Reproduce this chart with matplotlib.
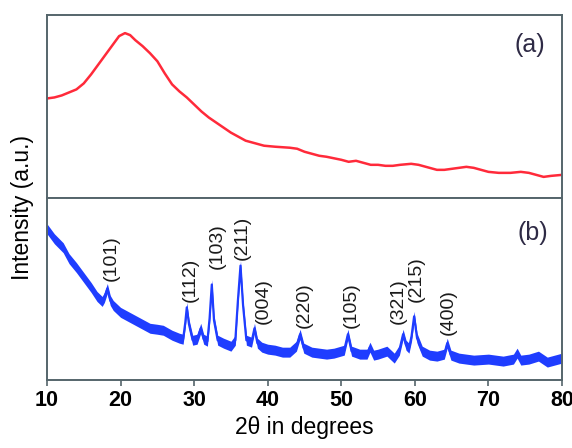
import numpy as np
import matplotlib
matplotlib.use("Agg")
import matplotlib.pyplot as plt

plt.rcParams['font.family'] = ['Liberation Sans', 'DejaVu Sans']

# panel (a): amorphous hump, intensity in arbitrary units
two_theta_a = [10, 11, 12, 13, 14, 15, 16, 17, 18, 19, 19.8, 20.6, 21.3, 22, 23, 24,
               25, 26, 27, 28, 29, 30, 31, 32, 33, 34, 35, 36, 37, 38, 39.5, 41,
               43, 44, 45, 46, 47, 48, 50, 51, 52, 53, 54, 55, 56, 57, 58, 59.5,
               60.5, 62, 63, 64, 65, 66, 67, 68, 69, 70, 71.4, 73, 74.4, 75.5,
               76.5, 77.5, 78.5, 80]
intensity_a = [99, 100, 102, 105, 108, 114, 123, 133, 143, 153, 161, 164, 162, 157,
               151, 144, 136, 124, 113, 106, 100, 93, 86, 80, 75, 70, 65, 61, 57,
               55, 52, 51, 50, 49, 46, 44, 42, 41, 38, 36, 37, 35, 33, 33, 32, 32,
               33, 34, 33, 30, 28, 28, 29, 30, 31, 30, 28, 26, 25, 25, 26, 25, 23,
               21, 22, 23]

# panel (b): crystalline pattern
two_theta_b = [10, 11, 12.2, 13, 14, 15, 16, 16.8, 17.5, 17.8, 18.2, 18.6, 19, 20,
               21, 22, 23, 24, 25, 25.8, 27, 28, 28.5, 28.8, 29.0, 29.3, 29.8, 30.4,
               30.9, 31.3, 31.8, 32.1, 32.4, 32.7, 33.2, 34, 35, 35.6, 35.95, 36.3,
               36.65, 37.1, 37.8, 38.2, 38.6, 39.2, 40, 41, 42, 43, 43.9, 44.4,
               44.9, 46, 47, 48, 49, 50.4, 50.9, 51.4, 52.5, 53.5, 53.9, 54.4, 55,
               56.2, 57.2, 57.9, 58.4, 58.8, 59.2, 59.55, 59.9, 60.3, 61, 62, 63,
               64, 64.4, 64.9, 66, 68, 70, 72, 73.4, 73.9, 74.4, 75.5, 76.8, 78,
               79, 80]
intensity_b = [152, 142, 133, 122, 113, 103, 93, 84, 79, 83, 92, 80, 75, 68,
               64, 60, 56, 52, 51, 50, 45, 42, 41, 58, 73, 56, 40, 41,
               52, 41, 39, 62, 96, 60, 40, 37, 34, 40, 80, 115,
               75, 40, 38, 52, 37, 33, 31, 30, 28, 28, 34, 46,
               32, 28, 27, 26, 27, 30, 46, 29, 26, 26, 33, 25, 26,
               29, 22, 30, 46, 35, 32, 44, 64, 42, 29, 25, 24,
               26, 37, 25, 22, 20, 21, 19, 21, 27, 20, 21, 24, 18,
               20, 22]

peak_labels = ['(101)', '(112)', '(103)', '(211)', '(004)', '(220)', '(105)',
               '(321)', '(215)', '(400)']
label_x = [18.7, 29.5, 33.1, 36.5, 39.4, 44.9, 51.3, 57.7, 60.2, 64.6]
label_y = [100, 78, 112, 121, 56, 52, 52, 56, 78, 45]

fig = plt.figure(figsize=(5.72, 4.48), dpi=100)
left, right = 47 / 572, 562 / 572
ax_a = fig.add_axes([left, 1 - 198 / 448, right - left, 183 / 448])
ax_b = fig.add_axes([left, 1 - 380 / 448, right - left, 182 / 448], sharex=ax_a)

spine_col = '#55656b'
for ax in (ax_a, ax_b):
    for s in ax.spines.values():
        s.set_color(spine_col)
        s.set_linewidth(1.4)
    ax.set_yticks([])
    ax.set_xlim(10, 80)

ax_a.plot(two_theta_a, intensity_a, color='#ff2a3a', lw=1.8)
ax_a.set_ylim(0, 182)
ax_a.tick_params(axis='x', bottom=False, labelbottom=False)
ax_a.text(0.938, 0.836, '(a)', transform=ax_a.transAxes, ha='center', va='center',
          fontsize=18, color='#2e2a45')

# noisy trace drawn as a band around the read-off centre line
blue = '#1f3dff'
yb = np.array(intensity_b, dtype=float)
ax_b.fill_between(two_theta_b, yb - 5, yb + 5, color=blue, lw=0)
ax_b.plot(two_theta_b, intensity_b, color=blue, lw=1.6)
ax_b.set_ylim(0, 183)
ax_b.text(0.944, 0.81, '(b)', transform=ax_b.transAxes, ha='center', va='center',
          fontsize=18, color='#2e2a45')
for lab, x, y in zip(peak_labels, label_x, label_y):
    ax_b.text(x, y, lab, rotation=90, ha='center', va='bottom', fontsize=14,
              color='#1a1a1a')

ax_b.set_xticks(np.arange(10, 81, 10))
ax_b.tick_params(axis='x', direction='out', length=4, width=1.2, color=spine_col,
                 labelsize=15.5, pad=3)
for t in ax_b.get_xticklabels():
    t.set_fontweight('bold')
ax_b.set_xlabel('2θ in degrees', fontsize=16.5, labelpad=4)

fig.text(23 / 572, 1 - 208 / 448, 'Intensity (a.u.)', rotation=90, ha='center',
         va='center', fontsize=16.5)

fig.savefig('out.png', dpi=100)
